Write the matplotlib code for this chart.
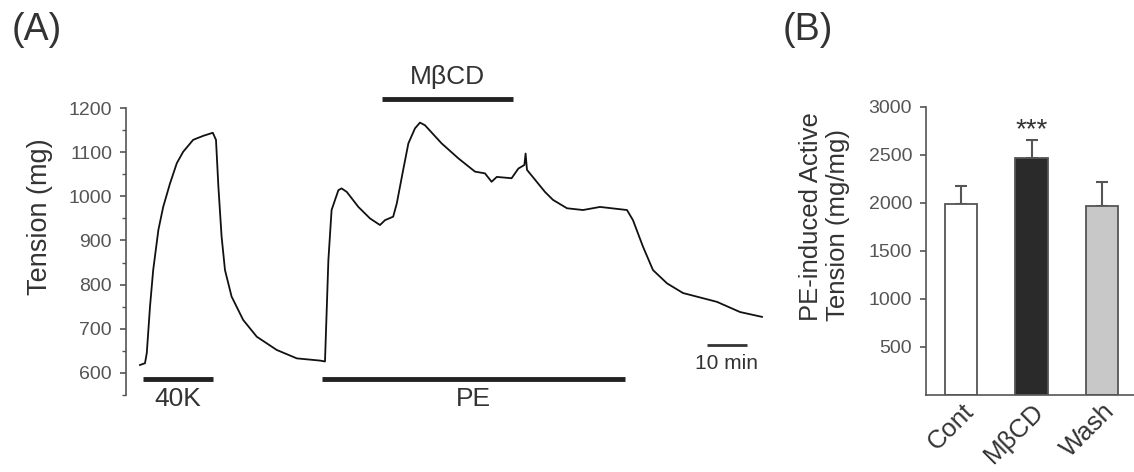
import numpy as np
import matplotlib
matplotlib.use('Agg')
import matplotlib.pyplot as plt
from matplotlib.ticker import MultipleLocator

plt.rcParams['font.family'] = ['Liberation Sans', 'DejaVu Sans']
plt.rcParams['text.color'] = '#333333'
plt.rcParams['axes.labelcolor'] = '#333333'
plt.rcParams['xtick.color'] = '#555555'
plt.rcParams['ytick.color'] = '#555555'

# ---- panel A: tension trace (time in min, tension in mg) ----
trace_t = [0, 1.25, 1.7, 2.5, 3.3, 4.6, 5.8, 7.5, 9.2, 10.8, 13.3, 15.8, 18.2, 19,
           19.6, 20.4, 21.25, 22.9, 25.8, 29.2, 34.2, 39.2, 45, 46.25, 47.1, 47.9,
           49.6, 50.4, 51.7, 54.6, 57.5, 60, 61.25, 63.3, 64.2, 65.8, 67.1, 68.75,
           70, 71.25, 75.4, 79.6, 83.75, 86.25, 87.9, 89.2, 92.9, 94.6, 96.1, 96.4,
           96.75, 101.25, 103.25, 106.75, 110.75, 115, 121.75, 123.25, 125.75,
           128.25, 131.75, 135.75, 144.25, 150, 155.5]
trace_mg = [618, 622, 645, 750, 833, 924, 976, 1029, 1075, 1101, 1128, 1137, 1144, 1128,
            1022, 909, 833, 773, 720, 682, 652, 633, 628, 626, 856, 969,
            1014, 1018, 1010, 976, 950, 935, 946, 954, 984, 1060, 1120, 1154,
            1167, 1161, 1120, 1086, 1056, 1052, 1033, 1044, 1041, 1063, 1071, 1097,
            1060, 1010, 992, 973, 969, 976, 969, 946, 886,
            833, 803, 781, 761, 738, 727]

k40_period = (0.75, 18.25)
pe_period = (45.5, 121.25)
mbcd_period = (60.5, 93.25)
scale_bar = (141.75, 151.75)

# ---- panel B: bar chart ----
groups = ['Cont', 'M\u03b2CD', 'Wash']
means = [1990, 2470, 1970]
sems = [185, 185, 250]
bar_colors = ['white', '#2a2a2a', '#c8c8c8']

fig = plt.figure(figsize=(11.34, 4.72), dpi=100)

axA = fig.add_axes([0.1111, 0.1631, 0.5679, 0.608])
axA.plot(trace_t, trace_mg, color='#111111', lw=1.3)
axA.set_xlim(-3.5, 157.5)
axA.set_ylim(550, 1200)
axA.set_yticks(np.arange(600, 1201, 100))
axA.yaxis.set_minor_locator(MultipleLocator(50))
axA.tick_params(axis='y', which='major', direction='out', length=4, width=1.2, labelsize=14, pad=6)
axA.tick_params(axis='y', which='minor', direction='out', length=3, width=1.0)
axA.set_xticks([])
for s in ['top', 'right', 'bottom']:
    axA.spines[s].set_visible(False)
axA.spines['left'].set_color('#555555')
axA.spines['left'].set_linewidth(1.2)
axA.set_ylabel('Tension (mg)', fontsize=19.5)
axA.yaxis.set_label_coords(-0.113, 0.62)

# drug application bars
axA.plot(k40_period, [586, 586], color='#222222', lw=3.5, solid_capstyle='butt', clip_on=False)
axA.plot(pe_period, [586, 586], color='#222222', lw=3.5, solid_capstyle='butt', clip_on=False)
axA.plot(mbcd_period, [1221, 1221], color='#222222', lw=3.5, solid_capstyle='butt', clip_on=False)
axA.plot(scale_bar, [663, 663], color='#333333', lw=2, solid_capstyle='butt', clip_on=False)
axA.text(np.mean(k40_period), 540, '40K', ha='center', va='center', fontsize=19)
axA.text(np.mean(pe_period), 540, 'PE', ha='center', va='center', fontsize=19)
axA.text(np.mean(mbcd_period), 1270, 'M\u03b2CD', ha='center', va='center', fontsize=19)
axA.text(np.mean(scale_bar), 622, '10 min', ha='center', va='center', fontsize=15)

axB = fig.add_axes([0.8166, 0.1631, 0.1834, 0.6108])
x = np.arange(len(groups))
axB.bar(x, means, width=0.46, color=bar_colors, edgecolor='#555555', linewidth=1.3, zorder=2)
axB.errorbar(x, means, yerr=[np.zeros(len(sems)), sems], fmt='none', ecolor='#555555',
             elinewidth=1.5, capsize=4.3, capthick=1.5, zorder=1)
axB.text(1, means[1] + sems[1] + 100, '***', ha='center', va='center', fontsize=20)
axB.set_xlim(-0.5, 2.454)
axB.set_ylim(0, 3000)
axB.set_yticks(np.arange(500, 3001, 500))
axB.set_xticks(x)
axB.set_xticklabels(groups, rotation=45, ha='right', rotation_mode='anchor', fontsize=18.5, color='#333333')
axB.tick_params(axis='y', direction='out', length=4, width=1.2, labelsize=14, pad=6)
axB.tick_params(axis='x', length=0, pad=3)
for s in ['top', 'right']:
    axB.spines[s].set_visible(False)
for s in ['left', 'bottom']:
    axB.spines[s].set_color('#555555')
    axB.spines[s].set_linewidth(1.2)
axB.set_ylabel('PE-induced Active\nTension (mg/mg)', fontsize=18.5, multialignment='left', linespacing=1.15)
axB.yaxis.set_label_coords(-0.365, 0.62)

fig.text(0.0106, 0.936, '(A)', fontsize=27, va='center', ha='left')
fig.text(0.690, 0.936, '(B)', fontsize=27, va='center', ha='left')

fig.savefig('out.png', dpi=100)
